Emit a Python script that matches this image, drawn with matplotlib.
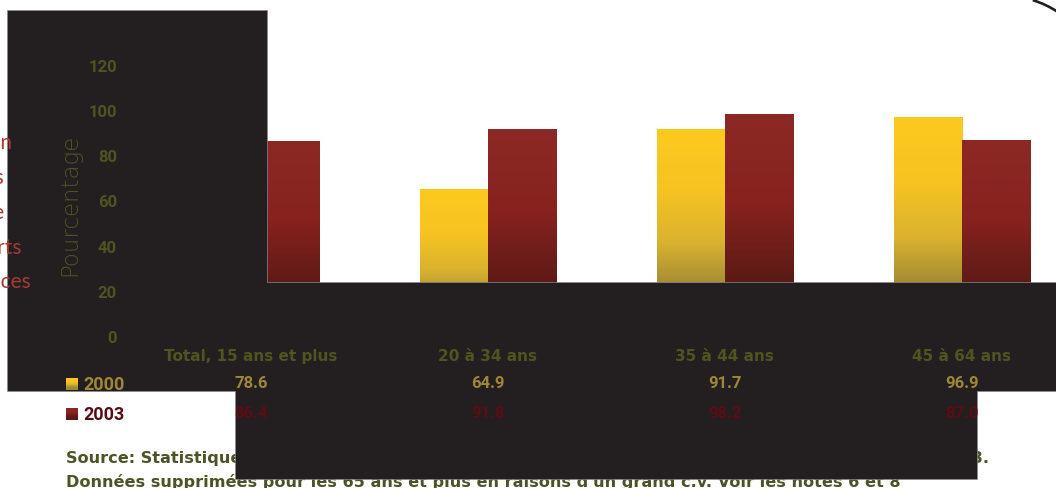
import numpy as np
import matplotlib
matplotlib.use("Agg")
import matplotlib.pyplot as plt
from matplotlib.patches import Polygon, Arc
from matplotlib.colors import LinearSegmentedColormap
from matplotlib.transforms import blended_transform_factory

# ---- data ----
categories = ["Total, 15 ans et plus", "20 à 34 ans", "35 à 44 ans", "45 à 64 ans"]
years = ["2000", "2003"]
values_2000 = [78.6, 64.9, 91.7, 96.9]
values_2003 = [86.4, 91.8, 98.2, 87.0]
y_ticks = [0, 20, 40, 60, 80, 100, 120]
y_label = "Pourcentage"
side_words = ["Taux de participation", "des personnes", "actives à une", "activité de sports", "ou de dépendances"]
source_lines = [
    "Source: Statistiques Canada, Enquête sur la population active, moyennes annuelles, de 2000 à 2003.",
    "Données supprimées pour les 65 ans et plus en raisons d'un grand c.v. Voir les notes 6 et 8",
]

W, H = 1056, 489
NUM_FONT = ["Roboto", "DejaVu Sans"]
TXT_FONT = ["DejaVu Sans"]
plt.rcParams["font.family"] = NUM_FONT

DARK = "#231f20"
OLIVE = "#4f5420"
GOLD_TXT = "#9e8836"
RED_TXT = "#5c0c14"

yellow_cmap = LinearSegmentedColormap.from_list(
    "yel", [(0.0, "#fcca1e"), (0.3, "#f6c322"), (0.55, "#dab22f"), (0.75, "#a58d33"), (1.0, "#9d8834")])
red_cmap = LinearSegmentedColormap.from_list(
    "red", [(0.0, "#8c2925"), (0.4, "#87221f"), (0.75, "#5d1a15"), (1.0, "#561812")])
grad = np.linspace(0, 1, 256).reshape(-1, 1)


def fx(px):
    return px / W


def fy(py):
    return 1 - py / H


fig = plt.figure(figsize=(W / 100, H / 100), dpi=100)
fig.patch.set_facecolor("white")
ax = fig.add_axes([fx(132), fy(337), fx(1056) - fx(132), fy(43.4) - fy(337)])
ax.set_facecolor("none")
ax.set_axisbelow(False)
for s in ax.spines.values():
    s.set_visible(False)

x = np.arange(len(categories))
bw = 0.287
series = [(values_2000, -bw / 2, yellow_cmap), (values_2003, bw / 2, red_cmap)]
for vals, off, cmap in series:
    bars = ax.bar(x + off, vals, width=bw, facecolor="none", edgecolor="none", zorder=1)
    for rect in bars:
        x0, w, h = rect.get_x(), rect.get_width(), rect.get_height()
        im = ax.imshow(grad, cmap=cmap, extent=(x0, x0 + w, 0, h), origin="upper",
                       aspect="auto", zorder=1, interpolation="bilinear")
        im.set_clip_path(rect)

ax.set_yticks(y_ticks)
ax.set_yticklabels([str(t) for t in y_ticks])
ax.tick_params(axis="y", length=0, pad=10.8, labelsize=12, labelcolor=OLIVE)
for t in ax.get_yticklabels():
    t.set_fontweight("bold")
ax.set_xticks(x)
ax.set_xticklabels(categories)
ax.tick_params(axis="x", length=0, pad=8.5, labelsize=11, labelcolor=OLIVE)
for t in ax.get_xticklabels():
    t.set_fontweight("bold")
    t.set_family(TXT_FONT)

ax.set_ylabel(y_label, fontsize=16.5, color=OLIVE, fontweight="light", family=TXT_FONT)
ax.yaxis.set_label_coords(-0.055, 0.45)

# dark overlay panel
pts = [(7, 11), (267, 11), (267, 283), (1056, 283), (1056, 392), (977, 392),
       (977, 480), (235, 480), (235, 392), (7, 392)]
panel = Polygon([(fx(a), fy(b)) for a, b in pts], closed=True, transform=fig.transFigure,
                facecolor=DARK, edgecolor="#8a8a8a", linewidth=0.5, zorder=2, clip_on=False)
ax.add_patch(panel)

# data table under the axis
blend = blended_transform_factory(ax.transData, fig.transFigure)
for i in x:
    ax.text(i, fy(384), f"{values_2000[i]:.1f}", transform=blend, ha="center", va="center",
            fontsize=12, fontweight="bold", color=GOLD_TXT, zorder=3, clip_on=False)
    ax.text(i, fy(414), f"{values_2003[i]:.1f}", transform=blend, ha="center", va="center",
            fontsize=12, fontweight="bold", color=RED_TXT, zorder=3, clip_on=False)

# legend keys
for yr, cy, cmap, col in [(years[0], 385, yellow_cmap, GOLD_TXT), (years[1], 415, red_cmap, "#5a0c16")]:
    ax.imshow(grad, cmap=cmap, extent=(fx(66), fx(78), fy(cy + 6), fy(cy - 6)),
              transform=fig.transFigure, origin="upper", aspect="auto", zorder=3, clip_on=False)
    ax.text(fx(83), fy(cy), yr, transform=fig.transFigure, ha="left", va="center",
            fontsize=13, fontweight="bold", color=col, zorder=3, clip_on=False)

ax.set_xlim(-0.502, 3.397)
ax.set_ylim(0, 130)

# source notes (under the overlay)
for line, cy in zip(source_lines, [458, 482]):
    ax.text(fx(66), fy(cy), line, transform=fig.transFigure, ha="left", va="center",
            fontsize=11.6, fontweight="bold", color="#4d5324", zorder=1.5, clip_on=False,
            family=TXT_FONT)

# side text spilling in from the left
for word, (ex, cy) in zip(side_words, [(12, 143), (4, 178), (4, 213), (22, 248), (31, 282)]):
    ax.text(fx(ex), fy(cy), word, transform=fig.transFigure, ha="right", va="center",
            fontsize=15, color="#a83a32", zorder=3, clip_on=False, family=["Lato", "DejaVu Sans"])

# rounded frame corner (pixel-true circle via inch transform)
r = 95
arc = Arc((1005 / 100, (H - 92) / 100), 2 * r / 100, 2 * r / 100, theta1=40, theta2=73,
          transform=fig.dpi_scale_trans, color=DARK, linewidth=1.9)
fig.patches.append(arc)

fig.savefig("out.png", dpi=100)
